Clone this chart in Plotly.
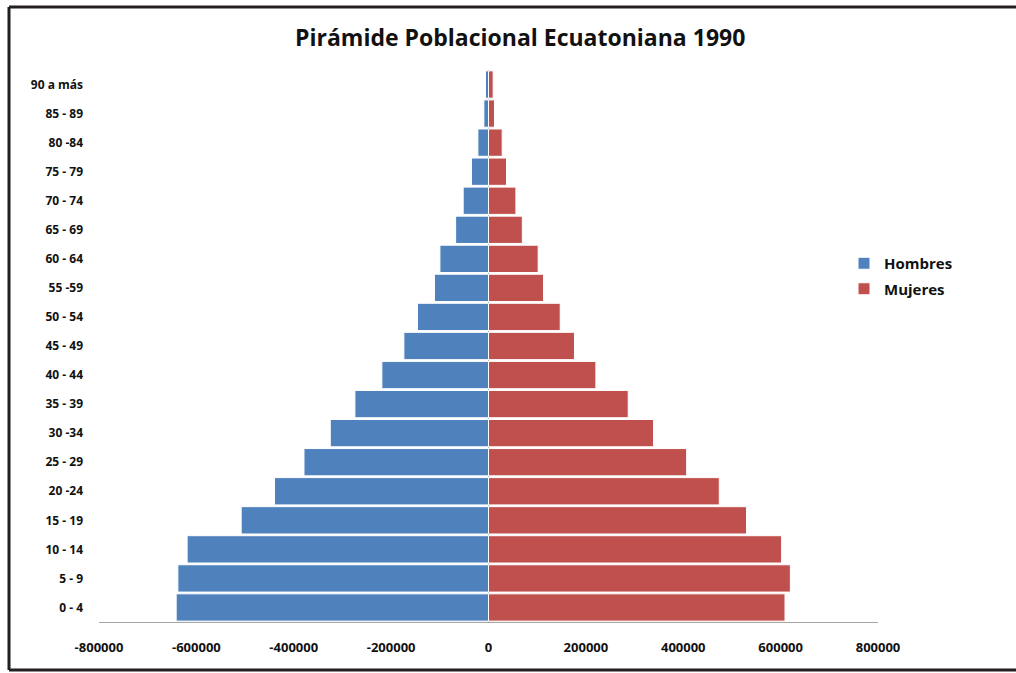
import plotly.graph_objects as go

# age groups, bottom to top
grupos = ["0 - 4", "5 - 9", "10 - 14", "15 - 19", "20 -24", "25 - 29", "30 -34",
          "35 - 39", "40 - 44", "45 - 49", "50 - 54", "55 -59", "60 - 64",
          "65 - 69", "70 - 74", "75 - 79", "80 -84", "85 - 89", "90 a más"]

hombres = [-641500, -638000, -619000, -508000, -439500, -379000, -325000,
           -274400, -219000, -173800, -145800, -111000, -99800,
           -67500, -52000, -34900, -21800, -9500, -6200]

mujeres = [609000, 620000, 602000, 530000, 474000, 407000, 339000,
           287000, 220600, 176600, 147300, 113000, 102000,
           69500, 56300, 37000, 28100, 12300, 9600]

x_ticks = [-800000, -600000, -400000, -200000, 0, 200000, 400000, 600000, 800000]
x_labels = ["-800000", "-600000", "-400000", "-200000", "0",
            "200000", "400000", "600000", "800000"]

W, H = 1016, 673
L, R, T, B = 99, 138, 70, 51
pw, ph = W - L - R, H - T - B


def px_x(v):
    return (v - L) / pw


def px_y(v):
    return (H - B - v) / ph


fig = go.Figure()
fig.add_trace(go.Bar(y=grupos, x=hombres, orientation="h", name="Hombres",
                     legendgroup="h",
                     marker=dict(color="#4F81BD", line=dict(color="white", width=1))))
fig.add_trace(go.Bar(y=grupos, x=mujeres, orientation="h", name="Mujeres",
                     legendgroup="m",
                     marker=dict(color="#C0504D", line=dict(color="white", width=1))))

# frame: left, top and bottom edges only (right edge is cut off in the original)
frame = dict(type="line", xref="paper", yref="paper",
             line=dict(color="#231f20", width=3), layer="above")
shapes = [
    dict(frame, x0=px_x(9), x1=px_x(9), y0=px_y(670), y1=px_y(7)),
    dict(frame, x0=px_x(9), x1=px_x(1016), y0=px_y(7), y1=px_y(7)),
    dict(frame, x0=px_x(9), x1=px_x(1016), y0=px_y(670), y1=px_y(670)),
]

fig.update_layout(
    width=W, height=H,
    margin=dict(l=L, r=R, t=T, b=B),
    paper_bgcolor="white", plot_bgcolor="white",
    barmode="overlay", bargap=0.06,
    font=dict(family="Open Sans, Noto Sans, sans-serif", color="#111111"),
    title=dict(text="<b>Pirámide Poblacional Ecuatoniana 1990</b>",
               x=0.512, xanchor="center", y=0.944, yanchor="middle",
               font=dict(size=23, family="Open Sans, sans-serif", color="#111111")),
    legend=dict(x=px_x(844), y=px_y(247), xanchor="left", yanchor="top",
                traceorder="grouped", tracegroupgap=3,
                font=dict(size=15, weight="bold"),
                itemwidth=30),
    shapes=shapes,
    showlegend=True,
)

fig.update_xaxes(range=[-800000, 800000], tickvals=x_ticks, ticktext=x_labels,
                 showgrid=False, showline=True, linecolor="#a6a6a6", linewidth=1,
                 zeroline=True, zerolinecolor="#a6a6a6", zerolinewidth=1,
                 ticks="", ticklabelstandoff=13,
                 tickfont=dict(size=13, weight="bold"))
fig.update_yaxes(type="category", categoryorder="array", categoryarray=grupos,
                 showgrid=False, showline=False, ticks="", ticklabelstandoff=15,
                 tickfont=dict(size=12, weight="bold"))

fig.write_html("out.html", config={"displayModeBar": False},
               post_script="document.body.style.margin='0';")
